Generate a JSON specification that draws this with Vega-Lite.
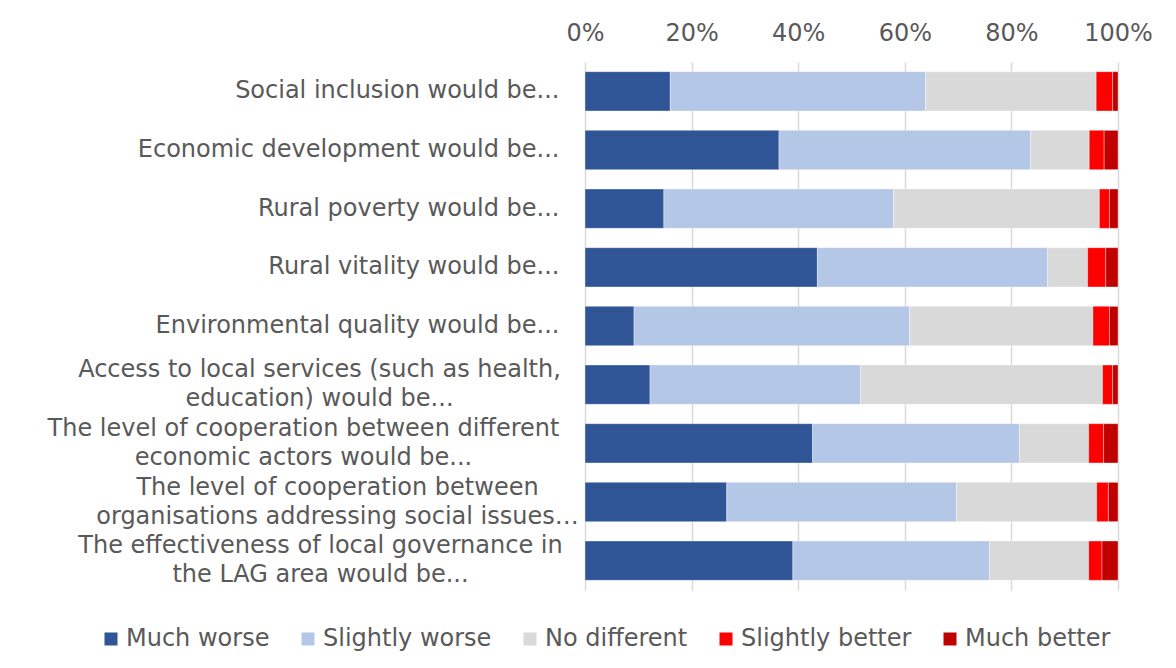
{
  "$schema": "https://vega.github.io/schema/vega-lite/v6.json",
  "width": 533,
  "height": 528,
  "autosize": "none",
  "padding": {"left": 585, "top": 62, "right": 58, "bottom": 78},
  "background": "white",
  "data": {
    "values": [
      {"item": "Social inclusion would be...", "resp": "Much worse", "k": 1, "v": 16.0},
      {"item": "Social inclusion would be...", "resp": "Slightly worse", "k": 2, "v": 47.9},
      {"item": "Social inclusion would be...", "resp": "No different", "k": 3, "v": 32.0},
      {"item": "Social inclusion would be...", "resp": "Slightly better", "k": 4, "v": 3.1},
      {"item": "Social inclusion would be...", "resp": "Much better", "k": 5, "v": 1.0},
      {"item": "Economic development would be...", "resp": "Much worse", "k": 1, "v": 36.4},
      {"item": "Economic development would be...", "resp": "Slightly worse", "k": 2, "v": 47.2},
      {"item": "Economic development would be...", "resp": "No different", "k": 3, "v": 11.0},
      {"item": "Economic development would be...", "resp": "Slightly better", "k": 4, "v": 2.8},
      {"item": "Economic development would be...", "resp": "Much better", "k": 5, "v": 2.6},
      {"item": "Rural poverty would be...", "resp": "Much worse", "k": 1, "v": 14.8},
      {"item": "Rural poverty would be...", "resp": "Slightly worse", "k": 2, "v": 43.1},
      {"item": "Rural poverty would be...", "resp": "No different", "k": 3, "v": 38.6},
      {"item": "Rural poverty would be...", "resp": "Slightly better", "k": 4, "v": 1.9},
      {"item": "Rural poverty would be...", "resp": "Much better", "k": 5, "v": 1.6},
      {"item": "Rural vitality would be...", "resp": "Much worse", "k": 1, "v": 43.6},
      {"item": "Rural vitality would be...", "resp": "Slightly worse", "k": 2, "v": 43.2},
      {"item": "Rural vitality would be...", "resp": "No different", "k": 3, "v": 7.5},
      {"item": "Rural vitality would be...", "resp": "Slightly better", "k": 4, "v": 3.4},
      {"item": "Rural vitality would be...", "resp": "Much better", "k": 5, "v": 2.3},
      {"item": "Environmental quality would be...", "resp": "Much worse", "k": 1, "v": 9.2},
      {"item": "Environmental quality would be...", "resp": "Slightly worse", "k": 2, "v": 51.7},
      {"item": "Environmental quality would be...", "resp": "No different", "k": 3, "v": 34.4},
      {"item": "Environmental quality would be...", "resp": "Slightly better", "k": 4, "v": 3.1},
      {"item": "Environmental quality would be...", "resp": "Much better", "k": 5, "v": 1.6},
      {"item": "Access to local services (such as health,|education) would be...", "resp": "Much worse", "k": 1, "v": 12.2},
      {"item": "Access to local services (such as health,|education) would be...", "resp": "Slightly worse", "k": 2, "v": 39.5},
      {"item": "Access to local services (such as health,|education) would be...", "resp": "No different", "k": 3, "v": 45.4},
      {"item": "Access to local services (such as health,|education) would be...", "resp": "Slightly better", "k": 4, "v": 1.9},
      {"item": "Access to local services (such as health,|education) would be...", "resp": "Much better", "k": 5, "v": 1.0},
      {"item": "The level of cooperation between different|economic actors would be...", "resp": "Much worse", "k": 1, "v": 42.7},
      {"item": "The level of cooperation between different|economic actors would be...", "resp": "Slightly worse", "k": 2, "v": 38.8},
      {"item": "The level of cooperation between different|economic actors would be...", "resp": "No different", "k": 3, "v": 13.0},
      {"item": "The level of cooperation between different|economic actors would be...", "resp": "Slightly better", "k": 4, "v": 2.8},
      {"item": "The level of cooperation between different|economic actors would be...", "resp": "Much better", "k": 5, "v": 2.7},
      {"item": "The level of cooperation between|organisations addressing social issues…", "resp": "Much worse", "k": 1, "v": 26.6},
      {"item": "The level of cooperation between|organisations addressing social issues…", "resp": "Slightly worse", "k": 2, "v": 43.1},
      {"item": "The level of cooperation between|organisations addressing social issues…", "resp": "No different", "k": 3, "v": 26.3},
      {"item": "The level of cooperation between|organisations addressing social issues…", "resp": "Slightly better", "k": 4, "v": 2.2},
      {"item": "The level of cooperation between|organisations addressing social issues…", "resp": "Much better", "k": 5, "v": 1.8},
      {"item": "The effectiveness of local governance in|the LAG area would be...", "resp": "Much worse", "k": 1, "v": 39.0},
      {"item": "The effectiveness of local governance in|the LAG area would be...", "resp": "Slightly worse", "k": 2, "v": 36.9},
      {"item": "The effectiveness of local governance in|the LAG area would be...", "resp": "No different", "k": 3, "v": 18.6},
      {"item": "The effectiveness of local governance in|the LAG area would be...", "resp": "Slightly better", "k": 4, "v": 2.5},
      {"item": "The effectiveness of local governance in|the LAG area would be...", "resp": "Much better", "k": 5, "v": 3.0}
    ]
  },
  "mark": {"type": "bar", "stroke": "white", "strokeWidth": 0.6, "strokeOpacity": 0.6},
  "encoding": {
    "y": {
      "field": "item",
      "type": "nominal",
      "sort": null,
      "scale": {"paddingInner": 0.33, "paddingOuter": 0.165},
      "axis": {
        "title": null,
        "domain": false,
        "ticks": false,
        "labelFont": "DejaVu Sans",
        "labelFontSize": 24,
        "labelColor": "#595959",
        "labelLimit": 700,
        "labelLineHeight": 29,
        "labelExpr": "split(datum.value, '|')",
        "labelAlign": {"condition": {"test": "indexof(datum.value, '|') >= 0", "value": "center"}, "value": "right"},
        "labelOffset": {"condition": {"test": "indexof(datum.value, '|') >= 0", "value": -14.5}, "value": 0},
        "labelPadding": {
          "condition": [
            {"test": "indexof(datum.value, 'Access') == 0", "value": 266},
            {"test": "indexof(datum.value, 'different|') >= 0", "value": 282},
            {"test": "indexof(datum.value, 'organisations') >= 0", "value": 248},
            {"test": "indexof(datum.value, 'effectiveness') >= 0", "value": 265}
          ],
          "value": 26
        }
      }
    },
    "x": {
      "field": "v",
      "type": "quantitative",
      "stack": "normalize",
      "scale": {"domain": [0, 1]},
      "axis": {
        "orient": "top",
        "title": null,
        "format": ".0%",
        "values": [0, 0.2, 0.4, 0.6, 0.8, 1],
        "domain": false,
        "ticks": false,
        "grid": true,
        "gridColor": "#d9d9d9",
        "gridWidth": 1.5,
        "labelPadding": 17,
        "labelFont": "DejaVu Sans",
        "labelFontSize": 24,
        "labelColor": "#595959",
        "labelFlush": false
      }
    },
    "color": {
      "field": "resp",
      "type": "nominal",
      "scale": {
        "domain": ["Much worse", "Slightly worse", "No different", "Slightly better", "Much better"],
        "range": ["#2f5597", "#b4c7e7", "#d9d9d9", "#ff0000", "#c00000"]
      },
      "legend": {
        "title": null,
        "orient": "none",
        "direction": "horizontal",
        "legendX": -486,
        "legendY": 565,
        "symbolType": "square",
        "symbolSize": 169,
        "symbolStrokeWidth": 0,
        "labelFont": "DejaVu Sans",
        "labelFontSize": 24,
        "labelColor": "#595959",
        "labelOffset": 3,
        "columnPadding": 26,
        "labelLimit": 400
      }
    },
    "order": {"field": "k", "type": "quantitative"}
  },
  "config": {"view": {"stroke": null}}
}
